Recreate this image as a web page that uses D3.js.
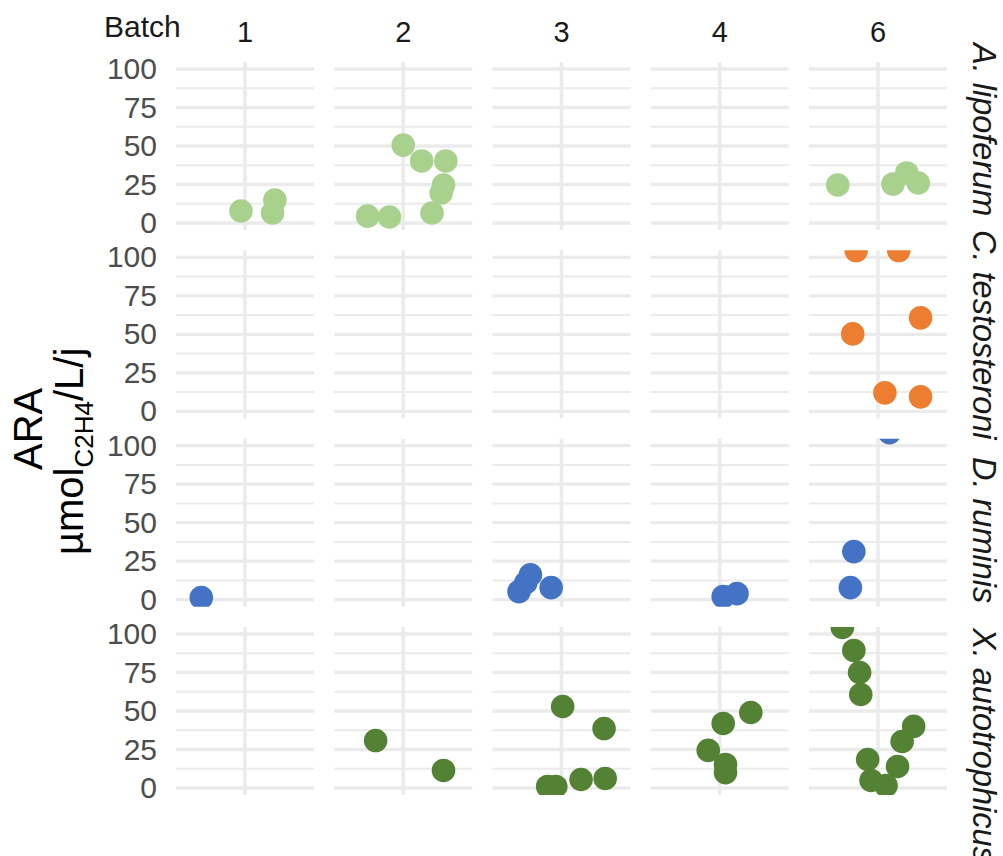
<!DOCTYPE html>
<html>
<head>
<meta charset="utf-8">
<script src="https://cdn.jsdelivr.net/npm/d3@7"></script>
<style>
  html, body { margin: 0; padding: 0; background: #fff; }
  svg { display: block; font-family: "Liberation Sans", Arial, sans-serif; }
</style>
</head>
<body>
<svg id="chart" width="1003" height="856"></svg>
<script>
// ---- data ----
const batches = ["1", "2", "3", "4", "6"];
const species = ["A. lipoferum", "C. testosteroni", "D. ruminis", "X. autotrophicus"];
const speciesColors = ["#a9d18e", "#ed7d31", "#4472c4", "#548235"];
const yTicks = [0, 25, 50, 75, 100];
const yMinor = [12.5, 37.5, 62.5, 87.5];

// [batch, horizontal jitter (units), ARA value]
const lipoferum = [
  ["1", -0.035, 7.8], ["1", 0.24, 6.5], ["1", 0.26, 14.9],
  ["2", -0.31, 4.5], ["2", -0.12, 3.9], ["2", 0.0, 50.6], ["2", 0.16, 40.3], ["2", 0.37, 40.3],
  ["2", 0.35, 24.7], ["2", 0.33, 19.5], ["2", 0.25, 6.5],
  ["6", -0.35, 24.7], ["6", 0.13, 25.3], ["6", 0.25, 32.5], ["6", 0.35, 26.0]
];
const testosteroni = [
  ["6", -0.19, 104.4], ["6", 0.18, 104.4], ["6", 0.37, 60.7], ["6", -0.22, 50.3],
  ["6", 0.06, 12.0], ["6", 0.37, 9.4]
];
const ruminis = [
  ["1", -0.38, 1.3],
  ["3", -0.37, 5.2], ["3", -0.31, 11.0], ["3", -0.27, 16.2], ["3", -0.09, 7.8],
  ["4", 0.03, 2.0], ["4", 0.15, 3.9],
  ["6", -0.24, 7.8], ["6", -0.21, 31.2], ["6", 0.10, 108.4]
];
const autotrophicus = [
  ["2", -0.24, 30.8], ["2", 0.35, 11.4],
  ["3", 0.01, 52.9], ["3", 0.37, 38.6], ["3", 0.17, 5.5], ["3", 0.38, 6.2], ["3", -0.12, 1.0], ["3", -0.05, 1.0],
  ["4", 0.03, 41.9], ["4", 0.27, 49.0], ["4", -0.10, 24.4], ["4", 0.05, 15.3], ["4", 0.05, 10.0],
  ["6", -0.31, 104.2], ["6", -0.21, 89.3], ["6", -0.16, 75.0], ["6", -0.15, 60.7], ["6", 0.31, 40.0],
  ["6", 0.21, 30.2], ["6", -0.09, 18.5], ["6", 0.17, 14.0], ["6", -0.06, 4.9], ["6", 0.07, 1.6]
];
const seriesData = [lipoferum, testosteroni, ruminis, autotrophicus];

// ---- layout ----
const svg = d3.select("#chart");
const colBand = d3.scaleBand().domain(batches).range([176, 947]).paddingInner(0.128).paddingOuter(0);
const rowBand = d3.scaleBand().domain(species).range([62, 795]).paddingInner(0.1078).paddingOuter(0);
const pw = colBand.bandwidth();
const ph = rowBand.bandwidth();
const xJ = d3.scaleLinear().domain([-0.6, 0.6]).range([0, pw]);
const y = d3.scaleLinear().domain([0, 100]).range([ph - 7, 7]);

const defs = svg.append("defs");
defs.append("clipPath").attr("id", "panelclip")
  .append("rect").attr("x", 0).attr("y", 0).attr("width", pw).attr("height", ph);

species.forEach((sp, si) => {
  const top = rowBand(sp);
  // y axis
  const ax = svg.append("g").attr("transform", `translate(${colBand("1")},${top})`)
    .call(d3.axisLeft(y).tickValues(yTicks).tickSize(0).tickPadding(19));
  ax.select(".domain").remove();
  ax.selectAll("text").attr("font-size", 30).attr("fill", "#4d4d4d")
    .attr("font-family", "'Liberation Sans', Arial, sans-serif");

  batches.forEach(b => {
    const g = svg.append("g").attr("transform", `translate(${colBand(b)},${top})`);
    g.selectAll("line.minor").data(yMinor).enter().append("line")
      .attr("x1", 0).attr("x2", pw).attr("y1", d => y(d)).attr("y2", d => y(d))
      .attr("stroke", "#ebebeb").attr("stroke-width", 2);
    g.selectAll("line.major").data(yTicks).enter().append("line")
      .attr("x1", 0).attr("x2", pw).attr("y1", d => y(d)).attr("y2", d => y(d))
      .attr("stroke", "#ebebeb").attr("stroke-width", 3.4);
    g.append("line").attr("x1", xJ(0)).attr("x2", xJ(0)).attr("y1", 0).attr("y2", ph)
      .attr("stroke", "#ebebeb").attr("stroke-width", 3.6);
    const pts = seriesData[si].filter(d => d[0] === b);
    g.append("g").attr("clip-path", "url(#panelclip)")
      .selectAll("circle").data(pts).enter().append("circle")
      .attr("cx", d => xJ(d[1])).attr("cy", d => y(d[2])).attr("r", 11.8)
      .attr("fill", speciesColors[si]);
  });
});

// top strip labels
svg.append("text").attr("x", 104).attr("y", 37).attr("font-size", 30).attr("fill", "#1a1a1a").text("Batch");
batches.forEach(b => {
  svg.append("text").attr("x", colBand(b) + pw / 2).attr("y", 42)
    .attr("text-anchor", "middle").attr("font-size", 29).attr("fill", "#1a1a1a").text(b);
});

// right strip labels
const rightStart = [43, 230, 457, 628];
species.forEach((sp, i) => {
  svg.append("text").attr("transform", `translate(973,${rightStart[i]}) rotate(90)`)
    .attr("font-size", 32.5).attr("font-style", "italic").attr("fill", "#1a1a1a").text(sp);
});

// y title
svg.append("text").attr("transform", "translate(42,470) rotate(-90)")
  .attr("font-size", 40).attr("fill", "#000").text("ARA");
const t2 = svg.append("text").attr("transform", "translate(83,555) rotate(-90)")
  .attr("font-size", 40).attr("fill", "#000");
t2.append("tspan").text("\u00b5mol");
t2.append("tspan").attr("font-size", 26).attr("dy", 10).text("C2H4");
t2.append("tspan").attr("font-size", 40).attr("dy", -10).text("/L/j");
</script>
</body>
</html>
